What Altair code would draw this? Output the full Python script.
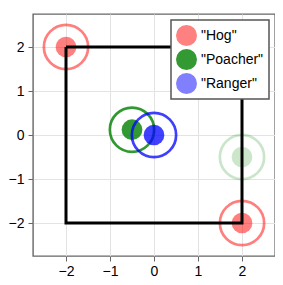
import altair as alt
import pandas as pd

# Points
pt_x = [-2, 2, -0.5, 2, 0]
pt_y = [2, -2, 0.12, -0.5, 0]
pt_group = ['"Hog"', '"Hog"', '"Poacher"', '"Poacher"', '"Ranger"']
pt_alpha = [0.5, 0.5, 0.8, 0.2, 0.75]

# Black path
path_x = [-2, 2, 2, -2, -2]
path_y = [2, 2, -2, -2, 2]

categories = ['"Hog"', '"Poacher"', '"Ranger"']
mark_colors = ["#ff0000", "#008000", "#0000ff"]
legend_colors = ["#ff8080", "#339933", "#8080ff"]

ticks = [-2, -1, 0, 1, 2]
dom = [-2.75, 2.75]

pts = pd.DataFrame({"x": pt_x, "y": pt_y, "g": pt_group, "a": pt_alpha})
path = pd.DataFrame({"x": path_x, "y": path_y, "o": list(range(len(path_x)))})

xs = alt.Scale(domain=dom, nice=False, zero=False)
ys = alt.Scale(domain=dom, nice=False, zero=False)
xax = alt.Axis(values=ticks, title=None, grid=True, labelPadding=3)
yax = alt.Axis(values=ticks, title=None, grid=True, labelPadding=4)

layers = []
for cat in categories:
    sub = pts[pts.g == cat]
    base = alt.Chart(sub).encode(
        x=alt.X("x:Q", scale=xs, axis=xax),
        y=alt.Y("y:Q", scale=ys, axis=yax),
        color=alt.Color("g:N", scale=alt.Scale(domain=categories, range=mark_colors), legend=None),
        opacity=alt.Opacity("a:Q", scale=None, legend=None),
    )
    layers.append(base.mark_circle(size=430, strokeWidth=0))
    layers.append(base.mark_point(filled=False, size=1960, strokeWidth=2.7))

line = alt.Chart(path).mark_line(color="black", strokeWidth=3).encode(
    x=alt.X("x:Q", scale=xs, axis=xax),
    y=alt.Y("y:Q", scale=ys, axis=yax),
    order="o:O",
)
layers.append(line)

leg = alt.Chart(pts).mark_circle(opacity=0).encode(
    x=alt.X("x:Q", scale=xs, axis=xax),
    y=alt.Y("y:Q", scale=ys, axis=yax),
    color=alt.Color(
        "g:N",
        scale=alt.Scale(domain=categories, range=legend_colors),
        legend=alt.Legend(
            title=None,
            orient="none",
            legendX=138,
            legendY=6,
            symbolType="circle",
            symbolSize=441,
            symbolOpacity=1,
            symbolStrokeWidth=0,
            labelFontSize=14,
            labelFont="Liberation Sans",
            labelColor="black",
            labelOffset=4,
            rowPadding=3,
            padding=5,
            fillColor="white",
            strokeColor="#555555",
            cornerRadius=0,
        ),
    ),
)
layers.append(leg)

chart = alt.layer(*layers).resolve_scale(color="independent").properties(
    width=242,
    height=242,
    autosize=alt.AutoSizeParams(type="none"),
    padding={"left": 25, "top": 6, "right": 0, "bottom": 21},
).configure_view(
    stroke="#666666", strokeWidth=1.4
).configure_axis(
    domain=False,
    gridColor="#e3e3e3",
    gridWidth=1,
    tickColor="#666666",
    tickWidth=1,
    tickSize=5,
    labelFont="Liberation Sans",
    labelFontSize=14,
    labelColor="black",
).configure_legend(strokeWidth=1.5)

chart.save("out.html", embed_options={"renderer": "svg", "actions": False})
